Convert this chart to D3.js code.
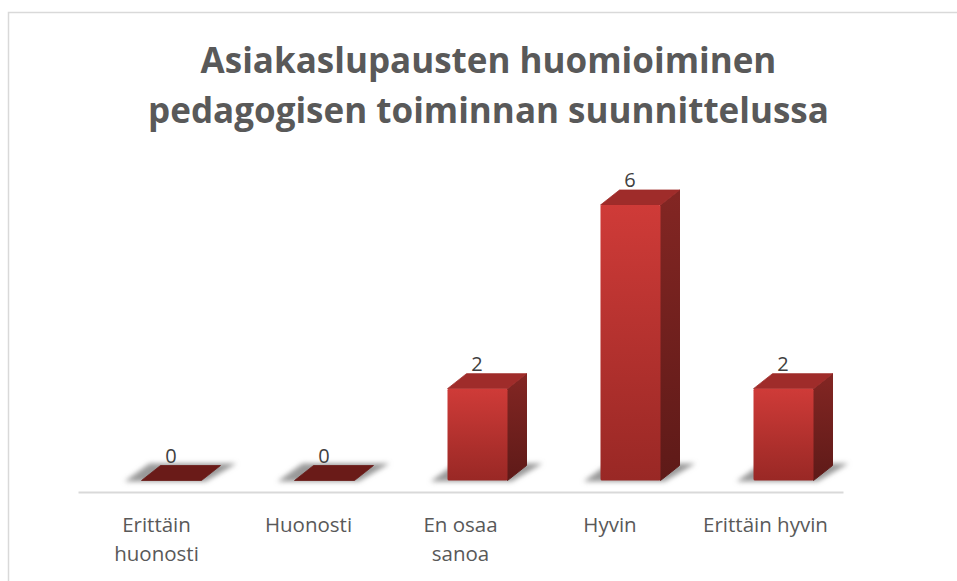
<!DOCTYPE html>
<html>
<head>
<meta charset="utf-8">
<script src="https://cdn.jsdelivr.net/npm/d3@7"></script>
<style>
  html, body { margin: 0; background: #fff; }
  svg { display: block; }
</style>
</head>
<body>
<div id="chart"></div>
<script>
const categories = ['Erittäin huonosti', 'Huonosti', 'En osaa sanoa', 'Hyvin', 'Erittäin hyvin'];
const values = [0, 0, 2, 6, 2];
const titleLines = ['Asiakaslupausten huomioiminen', 'pedagogisen toiminnan suunnittelussa'];

const width = 957, height = 581;
const baseY = 480.5, axisY = 492;
const fontFamily = '"Open Sans", sans-serif';

const svg = d3.select('#chart').append('svg')
    .attr('width', width)
    .attr('height', height);

const defs = svg.append('defs');

function gradient(id, top, bottom) {
    const g = defs.append('linearGradient').attr('id', id)
        .attr('x1', 0).attr('y1', 0).attr('x2', 0).attr('y2', 1);
    g.append('stop').attr('offset', '0%').attr('stop-color', top);
    g.append('stop').attr('offset', '100%').attr('stop-color', bottom);
}
gradient('front', '#cf3b38', '#992825');
gradient('side', '#832623', '#5e1a18');

defs.append('filter').attr('id', 'blur')
    .attr('x', '-20%').attr('y', '-50%').attr('width', '140%').attr('height', '200%')
    .append('feGaussianBlur').attr('stdDeviation', 2.5);

// chart frame, only top and left are visible in the crop
svg.append('path')
    .attr('d', `M8.5,${height} V12.5 H${width}`)
    .attr('fill', 'none')
    .attr('stroke', '#d9d9d9')
    .attr('stroke-width', 1.5);

svg.append('g')
    .attr('font-family', fontFamily)
    .attr('font-weight', 700)
    .attr('font-size', 35)
    .attr('fill', '#595959')
    .attr('text-anchor', 'middle')
    .selectAll('text')
    .data(titleLines)
    .enter().append('text')
    .attr('x', 488.5)
    .attr('y', (d, i) => 73 + i * 50)
    .text(d => d);

const x = d3.scaleBand().domain(categories).range([78, 843]);
const y = d3.scaleLinear().domain([0, 6]).range([baseY, 205]);

const barW = 60, depthX = 19, depthY = 15, shift = 17;
const faceX = d => x(d.cat) + x.bandwidth() / 2 + shift - barW / 2;

const data = categories.map((cat, i) => ({ cat, value: values[i] }));

// floor shadows first so the bars sit on top
svg.append('g').selectAll('path')
    .data(data)
    .enter().append('path')
    .attr('d', d => {
        const l = faceX(d);
        return `M${l - 17},${baseY + 1} L${l + barW + 4},${baseY + 1} L${l + barW + 35},${baseY - 17} L${l + 8},${baseY - 17} Z`;
    })
    .attr('fill', '#999')
    .attr('filter', 'url(#blur)');

const bars = svg.append('g').selectAll('g')
    .data(data)
    .enter().append('g');

// right side
bars.filter(d => d.value > 0).append('path')
    .attr('d', d => {
        const r = faceX(d) + barW, t = y(d.value);
        return `M${r},${t} L${r + depthX},${t - depthY} L${r + depthX},${baseY - depthY} L${r},${baseY} Z`;
    })
    .attr('fill', 'url(#side)')
    .attr('stroke', 'url(#side)')
    .attr('stroke-linejoin', 'round');

// top
bars.append('path')
    .attr('d', d => {
        const l = faceX(d), t = y(d.value);
        return `M${l},${t} L${l + depthX},${t - depthY} L${l + barW + depthX},${t - depthY} L${l + barW},${t} Z`;
    })
    .attr('fill', d => d.value > 0 ? '#9f2c2a' : '#6a1b18')
    .attr('stroke', d => d.value > 0 ? '#9f2c2a' : '#6a1b18')
    .attr('stroke-width', 0.8)
    .attr('stroke-linejoin', 'round');

// front
bars.filter(d => d.value > 0).append('rect')
    .attr('x', faceX)
    .attr('y', d => y(d.value))
    .attr('width', barW)
    .attr('height', d => baseY - y(d.value))
    .attr('rx', 1.5)
    .attr('fill', 'url(#front)');

// data labels
bars.append('text')
    .attr('x', d => faceX(d) + barW / 2 - 0.5)
    .attr('y', d => y(d.value) - 18)
    .attr('text-anchor', 'middle')
    .attr('font-family', fontFamily)
    .attr('font-size', 20)
    .attr('fill', '#404040')
    .text(d => d.value);

// category axis
const axis = svg.append('g')
    .attr('transform', `translate(0,${axisY})`)
    .call(d3.axisBottom(x).tickSize(0).tickPadding(0));

axis.select('.domain')
    .attr('stroke', '#d9d9d9')
    .attr('stroke-width', 2);

// Labels don't sit quite on the band centers in the original
const labelNudge = [2, 1, 0, -3.5, -1];
const labelLines = [['Erittäin', 'huonosti'], ['Huonosti'], ['En osaa', 'sanoa'], ['Hyvin'], ['Erittäin hyvin']];

axis.selectAll('.tick text').each(function (d, i) {
    const t = d3.select(this)
        .text(null)
        .attr('y', 0)
        .attr('dy', null)
        .attr('x', labelNudge[i])
        .attr('text-anchor', 'middle')
        .attr('font-family', fontFamily)
        .attr('font-size', 20.5)
        .attr('fill', '#595959');
    labelLines[i].forEach((line, j) => {
        t.append('tspan')
            .attr('x', labelNudge[i])
            .attr('y', 39.5 + j * 29)
            .text(line);
    });
});
</script>
</body>
</html>
